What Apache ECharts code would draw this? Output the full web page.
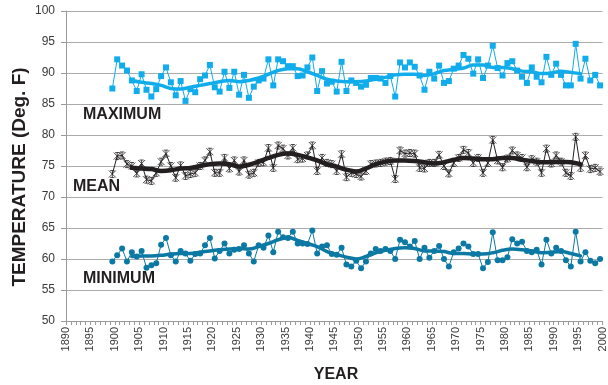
<!DOCTYPE html>
<html>
<head>
<meta charset="utf-8">
<script src="https://cdn.jsdelivr.net/npm/echarts@6/dist/echarts.min.js"></script>
<style>
  html, body { margin: 0; padding: 0; background: #fff; }
  #chart { width: 608px; height: 385px; }
</style>
</head>
<body>
<div id="chart"></div>
<script>
// Annual temperatures (deg F), one value per year starting in 1899
const FIRST_YEAR = 1899;

const maxTemp = [
  87.5,
  92.2, 91.2, 90.4, 88.8, 87.1, 89.8, 87.3, 86.2, 87.4, 89.5,
  90.9, 88.5, 86.4, 88.7, 85.5, 87.4, 86.9, 89.0, 89.6, 91.3,
  87.7, 87.0, 90.2, 87.6, 90.2, 86.5, 89.7, 86.0, 87.8, 88.8,
  89.1, 92.2, 88.0, 92.2, 91.9, 91.1, 91.1, 89.5, 89.6, 90.9,
  92.5, 87.1, 90.3, 88.3, 88.6, 87.0, 91.8, 87.1, 88.8, 88.4,
  87.8, 88.1, 89.2, 89.2, 89.1, 88.4, 89.5, 86.2, 91.7, 90.9,
  91.7, 91.0, 89.6, 87.3, 90.2, 89.1, 91.2, 88.4, 88.7, 90.7,
  91.2, 92.9, 92.3, 89.9, 92.2, 89.2, 91.2, 94.4, 90.8, 89.6,
  91.6, 91.9, 90.4, 89.4, 88.4, 90.9, 89.4, 88.5, 92.6, 89.7,
  91.5, 89.7, 88.0, 88.0, 94.7, 89.1, 92.3, 88.8, 89.7, 88.0
];

const meanTemp = [
  73.7,
  76.6, 76.7, 75.3, 75.0, 73.8, 75.4, 72.8, 72.6, 73.9, 75.7,
  77.0, 75.0, 73.1, 75.1, 73.4, 73.7, 73.9, 75.0, 75.9, 77.3,
  73.9, 73.9, 76.3, 74.6, 75.9, 74.1, 75.9, 73.6, 73.9, 75.5,
  75.6, 77.9, 74.7, 78.3, 77.8, 76.7, 77.9, 76.1, 76.2, 76.7,
  78.3, 74.2, 76.3, 75.5, 75.3, 74.2, 76.9, 73.2, 73.9, 73.7,
  73.3, 74.2, 75.3, 75.4, 75.5, 75.7, 75.8, 72.9, 77.5, 77.0,
  77.1, 77.0, 74.7, 74.6, 75.5, 75.5, 76.8, 75.0, 73.8, 75.5,
  76.3, 77.6, 77.1, 75.5, 76.3, 73.9, 75.5, 79.2, 75.9, 74.8,
  76.2, 77.5, 76.7, 76.3, 74.8, 76.1, 75.7, 73.9, 77.8, 75.4,
  76.7, 75.7, 73.9, 73.4, 79.7, 74.7, 76.7, 74.5, 74.7, 74.1
];

const minTemp = [
  59.6,
  60.6, 61.7, 59.6, 61.1, 60.4, 61.3, 58.6, 59.0, 59.3, 62.3,
  63.4, 60.6, 59.6, 61.3, 60.9, 59.7, 60.8, 60.9, 62.2, 63.4,
  60.1, 61.3, 62.5, 60.9, 61.5, 61.6, 62.2, 60.9, 59.6, 62.2,
  61.8, 63.8, 61.1, 64.4, 63.5, 63.4, 64.4, 62.5, 62.5, 62.4,
  64.6, 60.9, 62.0, 62.2, 60.8, 60.7, 61.8, 59.1, 58.8, 59.7,
  58.5, 59.6, 60.9, 61.6, 61.3, 61.6, 61.3, 60.0, 63.1, 62.7,
  62.0, 62.9, 60.0, 61.8, 60.2, 61.3, 62.1, 60.0, 58.8, 61.1,
  61.7, 62.5, 62.0, 60.8, 60.8, 58.5, 59.5, 64.3, 59.8, 59.8,
  60.3, 63.2, 62.5, 62.8, 61.3, 61.1, 61.5, 59.1, 63.1, 60.9,
  61.8, 61.3, 59.8, 58.8, 64.4, 59.6, 61.1, 59.7, 59.3, 60.0
];

// Smoothed trend curves, sampled every other year
const trendYears = [
  1903, 1905, 1907, 1909, 1911, 1913, 1915, 1917, 1919, 1921,
  1923, 1925, 1927, 1929, 1931, 1933, 1935, 1937, 1939, 1941,
  1943, 1945, 1947, 1949, 1951, 1953, 1955, 1957, 1959, 1961,
  1963, 1965, 1967, 1969, 1971, 1973, 1975, 1977, 1979, 1981,
  1983, 1985, 1987, 1989, 1991, 1993, 1995
];

const maxTrend = [
  88.8, 88.5, 88.3, 88.0, 87.5, 87.4, 87.7, 88.0, 88.3, 88.6,
  88.8, 88.6, 88.8, 89.2, 89.8, 90.4, 90.7, 90.7, 90.2, 89.6,
  89.0, 88.7, 88.6, 88.6, 88.7, 89.0, 89.3, 89.7, 89.8, 89.8,
  89.6, 89.9, 90.4, 90.6, 90.8, 91.3, 91.3, 90.9, 90.9, 90.7,
  90.3, 90.2, 89.9, 90.0, 90.3, 90.1, 89.9
];

const meanTrend = [
  74.7, 74.6, 74.5, 74.2, 74.3, 74.6, 74.7, 75.0, 75.3, 75.4,
  75.3, 74.9, 75.2, 75.7, 76.3, 76.8, 77.0, 76.8, 76.4, 75.9,
  75.3, 74.9, 74.4, 74.1, 74.6, 75.3, 75.7, 75.9, 75.9, 75.8,
  75.6, 75.4, 75.6, 76.0, 76.3, 76.2, 76.1, 76.1, 76.3, 76.3,
  76.0, 75.8, 75.6, 75.6, 75.7, 75.6, 75.3
];

const minTrend = [
  60.4, 60.5, 60.5, 60.6, 60.8, 60.9, 60.9, 61.1, 61.3, 61.5,
  61.6, 61.7, 61.6, 62.0, 62.5, 63.1, 63.5, 63.0, 62.5, 62.0,
  61.2, 60.7, 60.3, 60.0, 60.4, 61.0, 61.4, 61.7, 61.8, 61.7,
  61.3, 61.3, 61.2, 60.9, 60.9, 60.8, 60.8, 61.0, 61.4, 61.6,
  61.5, 61.3, 61.0, 61.1, 61.2, 60.9, 60.5
];

const yearAxisMin = 1890;
const yearAxisMax = 2000;
const tempAxisMin = 50;
const tempAxisMax = 100;

const COLOR_MAX = '#10aceb';
const COLOR_MEAN = '#231f20';
const COLOR_MIN = '#0c79a4';
const FONT = '"Liberation Sans", Arial, Helvetica, sans-serif';

// Each annual value is plotted at the middle of its year
const years = maxTemp.map((_, i) => FIRST_YEAR + i);
const pairs = (xs, vals, shift) => vals.map((v, i) => [xs[i] + shift, v]);

// Asterisk-style marker: an X closed by short bars top and bottom
const starMarker = 'path://M0,0L10,10M10,0L0,10M2,0L8,0M2,10L8,10M5,0L5,10';

function pointSeries(name, values, color, symbol, size, extra) {
  return Object.assign({
    name: name,
    type: 'line',
    data: pairs(years, values, 0.5),
    symbol: symbol,
    symbolSize: size,
    showSymbol: true,
    lineStyle: { color: color, width: 1 },
    itemStyle: { color: color },
    emphasis: { disabled: true },
    z: 2,
    animation: false
  }, extra || {});
}

function trendSeries(name, values, color, width) {
  return {
    name: name,
    type: 'line',
    data: pairs(trendYears, values, 0.5),
    smooth: 0.35,
    showSymbol: false,
    symbol: 'none',
    lineStyle: { color: color, width: width, cap: 'round', join: 'round' },
    emphasis: { disabled: true },
    z: 3,
    animation: false
  };
}

const chart = echarts.init(document.getElementById('chart'), null, { renderer: 'canvas' });

chart.setOption({
  animation: false,
  backgroundColor: '#ffffff',
  grid: { left: 66, right: 3, top: 11, bottom: 64, containLabel: false },
  xAxis: {
    type: 'value',
    min: yearAxisMin,
    max: yearAxisMax,
    interval: 5,
    axisLine: { show: true, lineStyle: { color: '#9a9a9a', width: 1 } },
    axisTick: { show: true, length: 4, lineStyle: { color: '#9a9a9a' } },
    minorTick: { show: true, splitNumber: 5, length: 4, lineStyle: { color: '#9a9a9a' } },
    splitLine: { show: false },
    axisLabel: {
      rotate: 90,
      margin: 6,
      fontSize: 11,
      color: '#3a3a3a',
      fontFamily: FONT,
      showMaxLabel: true,
      formatter: function (v) { return String(v); }
    }
  },
  yAxis: {
    type: 'value',
    min: tempAxisMin,
    max: tempAxisMax,
    interval: 5,
    axisLine: { show: true, lineStyle: { color: '#9a9a9a', width: 1 } },
    axisTick: { show: true, length: 5, lineStyle: { color: '#9a9a9a' } },
    splitLine: { show: true, lineStyle: { color: '#ababab', width: 1.2 } },
    axisLabel: { fontSize: 12, color: '#3a3a3a', fontFamily: FONT, margin: 11 }
  },
  series: [
    pointSeries('Maximum', maxTemp, COLOR_MAX, 'rect', 6),
    trendSeries('Maximum trend', maxTrend, COLOR_MAX, 3.5),
    pointSeries('Mean', meanTemp, COLOR_MEAN, starMarker, 7, {
      itemStyle: { color: 'rgba(0,0,0,0)', borderColor: COLOR_MEAN, borderWidth: 0.8 }
    }),
    trendSeries('Mean trend', meanTrend, COLOR_MEAN, 4.5),
    pointSeries('Minimum', minTemp, COLOR_MIN, 'circle', 6),
    trendSeries('Minimum trend', minTrend, COLOR_MIN, 3.5)
  ],
  graphic: [
    {
      type: 'text', x: 83, y: 115,
      style: { text: 'MAXIMUM', font: 'bold 16px ' + FONT, fill: '#231f20', textAlign: 'left', textVerticalAlign: 'middle' }
    },
    {
      type: 'text', x: 73, y: 187,
      style: { text: 'MEAN', font: 'bold 16px ' + FONT, fill: '#231f20', textAlign: 'left', textVerticalAlign: 'middle' }
    },
    {
      type: 'text', x: 83, y: 279,
      style: { text: 'MINIMUM', font: 'bold 16px ' + FONT, fill: '#231f20', textAlign: 'left', textVerticalAlign: 'middle' }
    },
    {
      type: 'text', x: 20, y: 177, rotation: Math.PI / 2,
      style: { text: 'TEMPERATURE (Deg. F)', font: 'bold 19px ' + FONT, fill: '#231f20', textAlign: 'center', textVerticalAlign: 'middle' }
    },
    {
      type: 'text', x: 336, y: 375,
      style: { text: 'YEAR', font: 'bold 16px ' + FONT, fill: '#231f20', textAlign: 'center', textVerticalAlign: 'middle' }
    }
  ]
});
</script>
</body>
</html>
